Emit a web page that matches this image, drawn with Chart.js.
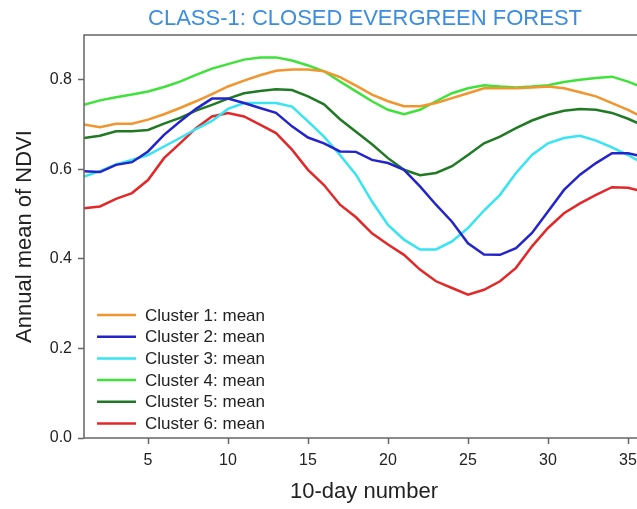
<!DOCTYPE html>
<html>
<head>
<meta charset="utf-8">
<script src="https://cdn.jsdelivr.net/npm/chart.js@4"></script>
<style>
  html, body { margin: 0; padding: 0; background: #fff; overflow: hidden; }
  #wrap { width: 660px; height: 509px; }
</style>
</head>
<body>
<div id="wrap"><canvas id="ndviChart" width="660" height="509"></canvas></div>
<script>
// 10-day periods of the year
const dekads = [1,2,3,4,5,6,7,8,9,10,11,12,13,14,15,16,17,18,19,20,21,22,23,24,25,26,27,28,29,30,31,32,33,34,35,36];

// annual mean NDVI per cluster
const cluster1 = [0.700,0.694,0.702,0.702,0.711,0.723,0.737,0.752,0.768,0.785,0.798,0.810,0.820,0.823,0.823,0.819,0.806,0.787,0.767,0.752,0.741,0.741,0.748,0.759,0.770,0.781,0.781,0.781,0.783,0.785,0.781,0.772,0.763,0.748,0.733,0.715];
const cluster2 = [0.596,0.594,0.610,0.616,0.640,0.677,0.707,0.735,0.758,0.758,0.748,0.737,0.726,0.696,0.671,0.658,0.640,0.639,0.621,0.614,0.599,0.562,0.521,0.483,0.435,0.410,0.409,0.424,0.458,0.506,0.554,0.588,0.614,0.636,0.636,0.628];
const cluster3 = [0.584,0.596,0.611,0.621,0.632,0.651,0.670,0.690,0.708,0.735,0.748,0.748,0.748,0.740,0.707,0.673,0.632,0.588,0.528,0.476,0.443,0.421,0.421,0.439,0.469,0.508,0.543,0.592,0.632,0.658,0.670,0.675,0.664,0.649,0.632,0.612];
const cluster4 = [0.744,0.754,0.761,0.767,0.774,0.784,0.796,0.811,0.825,0.835,0.845,0.850,0.850,0.843,0.832,0.819,0.796,0.774,0.752,0.733,0.723,0.733,0.752,0.770,0.781,0.788,0.785,0.783,0.785,0.788,0.795,0.800,0.804,0.807,0.796,0.782];
const cluster5 = [0.670,0.675,0.685,0.685,0.688,0.702,0.715,0.731,0.744,0.758,0.770,0.775,0.779,0.777,0.763,0.745,0.712,0.684,0.656,0.625,0.599,0.587,0.592,0.607,0.632,0.658,0.673,0.692,0.709,0.722,0.731,0.735,0.733,0.726,0.713,0.697];
const cluster6 = [0.513,0.517,0.534,0.547,0.576,0.625,0.658,0.692,0.718,0.726,0.718,0.700,0.681,0.644,0.599,0.565,0.521,0.493,0.457,0.432,0.409,0.376,0.350,0.335,0.320,0.331,0.350,0.380,0.428,0.469,0.502,0.524,0.543,0.560,0.559,0.550];

const seriesLabels = ["Cluster 1: mean","Cluster 2: mean","Cluster 3: mean","Cluster 4: mean","Cluster 5: mean","Cluster 6: mean"];
const seriesColors = ["#f2952e","#2424cc","#36e4f2","#3ee23a","#207a24","#e22828"];

const xTicks = [5,10,15,20,25,30,35];
const yTicks = [0.0,0.2,0.4,0.6,0.8];

const FONT = "'Liberation Sans', Arial, sans-serif";

function toPoints(vals) {
    return dekads.map((d, i) => ({ x: d, y: vals[i] }));
}

// box around the plot + title over plot area
const framePlugin = {
    id: "frame",
    afterDraw(chart) {
        const { ctx, chartArea: a } = chart;
        ctx.save();
        ctx.strokeStyle = "#666";
        ctx.lineWidth = 1.5;
        ctx.strokeRect(a.left, a.top, a.right - a.left, a.bottom - a.top);
        ctx.fillStyle = "#3a8de0";
        ctx.font = "22px " + FONT;
        ctx.textAlign = "center";
        ctx.textBaseline = "middle";
        ctx.fillText("CLASS-1: CLOSED EVERGREEN FOREST", (a.left + a.right) / 2 + 1, 19);
        ctx.restore();
    }
};

// legend drawn inside the plot, bottom left
const innerLegend = {
    id: "innerLegend",
    afterDraw(chart) {
        const ctx = chart.ctx;
        ctx.save();
        ctx.font = "17px " + FONT;
        ctx.textBaseline = "middle";
        ctx.textAlign = "left";
        chart.data.datasets.forEach((ds, i) => {
            const y = 315 + i * 21.7;
            ctx.strokeStyle = ds.borderColor;
            ctx.lineWidth = 2.5;
            ctx.beginPath();
            ctx.moveTo(97, y);
            ctx.lineTo(136, y);
            ctx.stroke();
            ctx.fillStyle = "#222";
            ctx.fillText(ds.label, 145, y + 1);
        });
        ctx.restore();
    }
};

const allSeries = [cluster1, cluster2, cluster3, cluster4, cluster5, cluster6];

new Chart(document.getElementById("ndviChart"), {
    type: "line",
    data: {
        datasets: allSeries.map((vals, i) => ({
            label: seriesLabels[i],
            data: toPoints(vals),
            borderColor: seriesColors[i],
            backgroundColor: seriesColors[i],
            borderWidth: 2.5,
            pointRadius: 0,
            tension: 0,
            fill: false
        }))
    },
    options: {
        responsive: false,
        animation: false,
        layout: { padding: { left: 0, right: 16, top: 35, bottom: 0 } },
        plugins: {
            legend: { display: false },
            title: { display: false },
            tooltip: { enabled: false }
        },
        scales: {
            x: {
                type: "linear",
                min: 1,
                max: 36,
                offset: false,
                border: { display: false },
                grid: { drawOnChartArea: false, drawTicks: true, tickLength: 6, tickColor: "#666", tickWidth: 1.5 },
                afterBuildTicks: s => { s.ticks = xTicks.map(v => ({ value: v })); },
                afterFit: s => { s.height = 71; },
                ticks: { color: "#222", font: { family: FONT, size: 16 }, padding: 7, maxRotation: 0,
                         callback: v => String(v) },
                title: { display: true, text: "10-day number", color: "#222",
                         font: { family: FONT, size: 22 }, padding: { top: 0, bottom: 4 } }
            },
            y: {
                min: 0,
                max: 0.9,
                border: { display: false },
                grid: { drawOnChartArea: false, drawTicks: true, tickLength: 6, tickColor: "#666", tickWidth: 1.5 },
                afterBuildTicks: s => { s.ticks = yTicks.map(v => ({ value: v })); },
                afterFit: s => { s.width = 84; },
                ticks: { color: "#222", font: { family: FONT, size: 16 }, padding: 6,
                         callback: v => v.toFixed(1) },
                title: { display: true, text: "Annual mean of NDVI", color: "#222",
                         font: { family: FONT, size: 22 }, padding: { top: 12, bottom: 0 } }
            }
        }
    },
    plugins: [framePlugin, innerLegend]
});
</script>
</body>
</html>
